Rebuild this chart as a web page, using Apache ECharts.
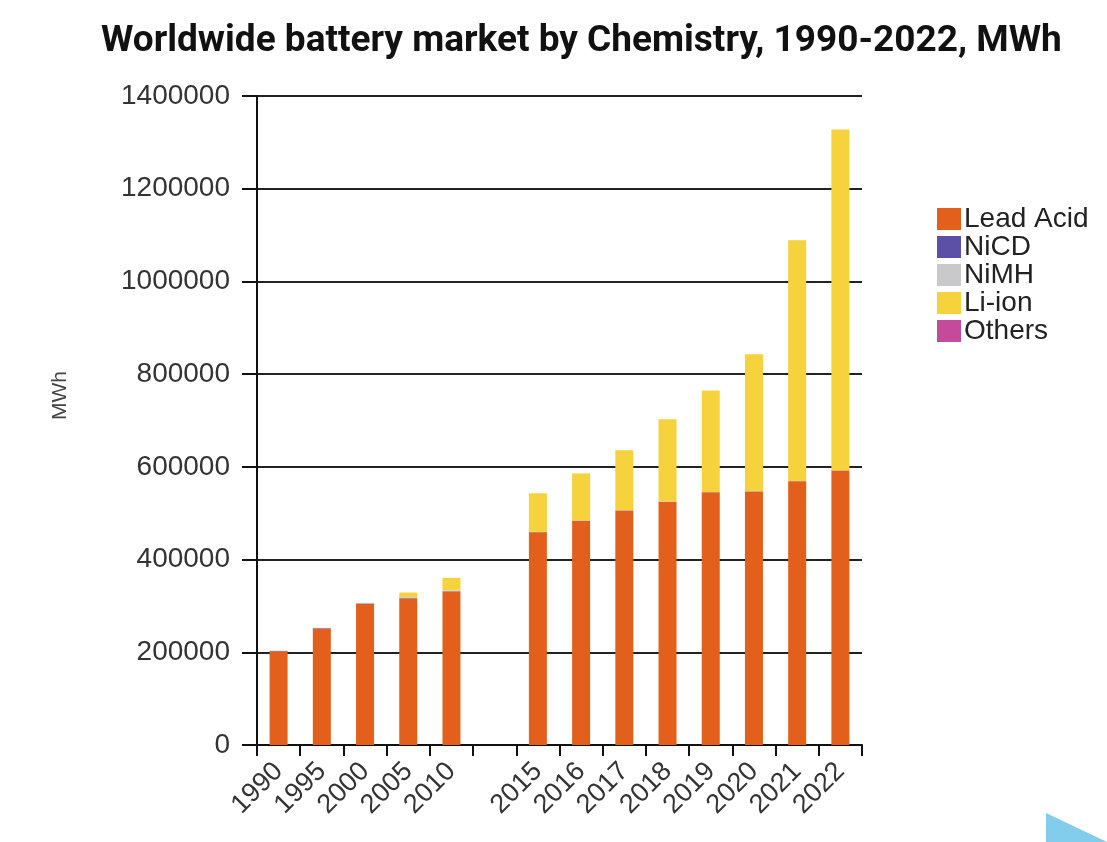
<!DOCTYPE html>
<html>
<head>
<meta charset="utf-8">
<script src="https://cdn.jsdelivr.net/npm/echarts@6/dist/echarts.min.js"></script>
<style>
  html, body { margin: 0; padding: 0; background: #fff; }
  #chart { width: 1107px; height: 842px; }
</style>
</head>
<body>
<div id="chart"></div>
<script>
// categories (empty slot between 2010 and 2015, as in the original)
var years = ['1990', '1995', '2000', '2005', '2010', '', '2015', '2016', '2017', '2018', '2019', '2020', '2021', '2022'];
var leadAcid = [202000, 251000, 304000, 316000, 331000, '-', 459000, 484000, 506000, 525000, 545000, 547000, 569000, 592000];
var nicd     = [1000, 1200, 1200, 1000, 800, '-', 400, 400, 300, 300, 300, 300, 300, 300];
var nimh     = [0, 600, 1500, 2000, 1800, '-', 600, 500, 500, 400, 400, 400, 300, 300];
var liIon    = [0, 0, 0, 10000, 27000, '-', 83000, 101000, 129000, 177000, 219000, 295000, 519000, 735000];
var others   = [0, 0, 0, 0, 0, '-', 0, 0, 0, 0, 0, 0, 0, 0];
var yTicks = [0, 200000, 400000, 600000, 800000, 1000000, 1200000, 1400000];

var colors = {
  'Lead Acid': '#e2601b',
  'NiCD': '#5b50a6',
  'NiMH': '#c9c9cc',
  'Li-ion': '#f6d23c',
  'Others': '#c44a9c'
};

function bar(name, data) {
  return {
    name: name,
    type: 'bar',
    stack: 'total',
    barWidth: 18,
    data: data,
    itemStyle: { color: colors[name] }
  };
}

var chart = echarts.init(document.getElementById('chart'));
chart.setOption({
  animation: false,
  backgroundColor: '#ffffff',
  title: {
    text: 'Worldwide battery market by Chemistry, 1990-2022, MWh',
    left: 96,
    top: 18,
    textStyle: { fontFamily: 'Roboto', fontWeight: 'bold', fontSize: 37, color: '#111' }
  },
  legend: {
    orient: 'vertical',
    left: 932,
    top: 200,
    itemWidth: 24,
    itemHeight: 22,
    itemGap: 0,
    icon: 'rect',
    textStyle: { fontFamily: 'Liberation Sans', fontSize: 28, lineHeight: 22, color: '#222', padding: [0, 0, 0, -2] },
    data: ['Lead Acid', 'NiCD', 'NiMH', 'Li-ion', 'Others']
  },
  grid: { left: 257, right: 245, top: 96, bottom: 97 },
  xAxis: {
    type: 'category',
    data: years,
    boundaryGap: true,
    axisLine: { lineStyle: { color: '#111', width: 2 } },
    axisTick: { show: true, interval: 0, length: 11, lineStyle: { color: '#111', width: 2 } },
    axisLabel: {
      interval: 0,
      rotate: 45,
      margin: 22,
      fontFamily: 'Liberation Sans',
      fontSize: 27,
      color: '#333'
    }
  },
  yAxis: {
    type: 'value',
    min: yTicks[0],
    max: yTicks[yTicks.length - 1],
    interval: 200000,
    name: 'MWh',
    nameLocation: 'middle',
    nameRotate: 90,
    nameGap: 186,
    nameTextStyle: { fontFamily: 'Liberation Sans', fontSize: 21, color: '#444', padding: [0, 0, 0, 50] },
    axisLine: { show: true, lineStyle: { color: '#111', width: 2 } },
    axisTick: { show: true, length: 15, lineStyle: { color: '#111', width: 2 } },
    axisLabel: {
      margin: 27,
      fontFamily: 'Liberation Sans',
      fontSize: 28,
      color: '#333',
      formatter: function (v) { return String(v); }
    },
    splitLine: { show: true, lineStyle: { color: '#222', width: 2 } }
  },
  graphic: [{
    type: 'polygon',
    shape: { points: [[1046, 813], [1107, 842], [1046, 842]] },
    style: { fill: '#82cdeb' }
  }],
  series: [
    bar('Lead Acid', leadAcid),
    bar('NiCD', nicd),
    bar('NiMH', nimh),
    bar('Li-ion', liIon),
    bar('Others', others)
  ]
});
</script>
</body>
</html>
